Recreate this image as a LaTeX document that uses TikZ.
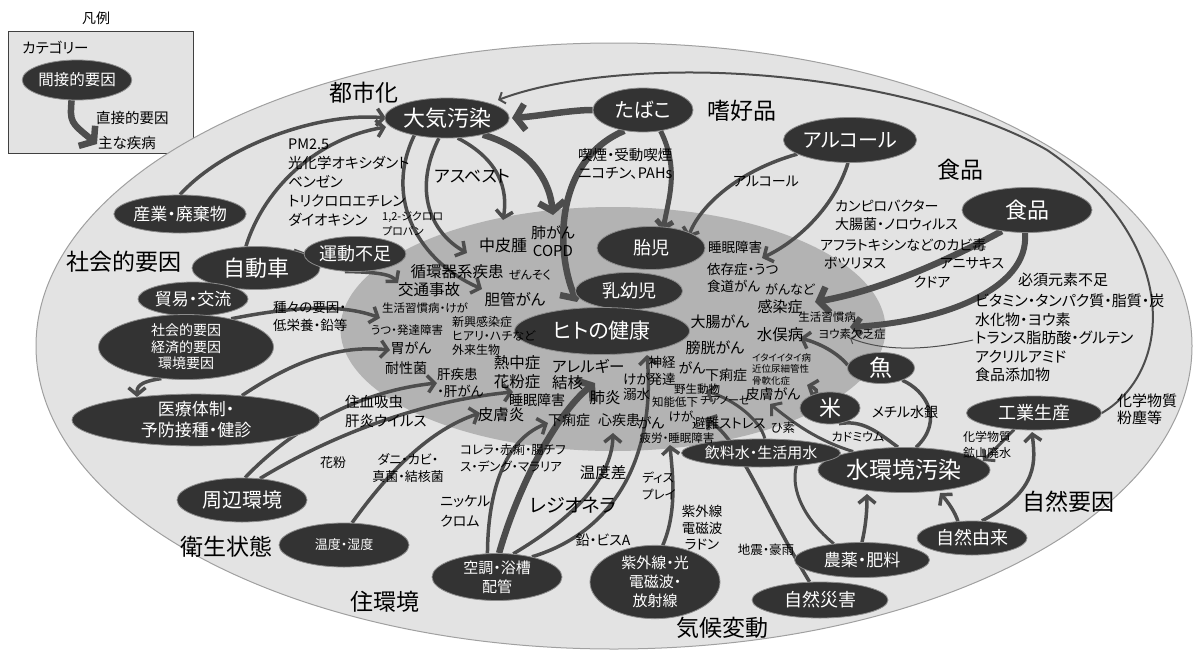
\documentclass[tikz,border=0pt]{standalone}
\usepackage{fontspec}
\newfontfamily\jp[RawFeature=+palt]{Noto Sans CJK JP}
\usetikzlibrary{shapes.geometric,arrows.meta}
\definecolor{outerfill}{HTML}{E3E3E3}
\definecolor{outerline}{HTML}{A0A0A0}
\definecolor{innerfill}{HTML}{B3B3B3}
\definecolor{nfill}{HTML}{333333}
\definecolor{nline}{HTML}{8C8C8C}
\definecolor{ac}{HTML}{4D4D4D}
\pgfdeclarelayer{bg}\pgfdeclarelayer{mid}\pgfsetlayers{bg,mid,main}
\begin{document}
\begin{tikzpicture}[x=1pt,y=-1pt,
  nd/.style={ellipse, fill=nfill, draw=nline, line width=0.8pt, text=white, inner sep=0pt, align=center},
  fs/.style 2 args={font=\jp\fontsize{#1}{#2}\selectfont},
  lb/.style={inner sep=0pt, align=center, text=black},
  lbl/.style={inner sep=0pt, align=left, anchor=north west, text=black},
  arr/.style={draw=ac, line width=3.5pt, -{Straight Barb[length=7pt,width=17pt]}},
  arrt/.style={draw=ac, line width=6.5pt, -{Straight Barb[length=9pt,width=26pt]}},
  arrs/.style={draw=ac, line width=1pt, -{Straight Barb[length=4pt,width=9pt]}},
  ln/.style={draw=ac, line width=3.5pt},
  lnt/.style={draw=ac, line width=2pt},
]
\useasboundingbox (0,0) rectangle (1197,651);

% ---------- legend
\node[lb,fs={14}{16}] (hanrei) at (96,18) {凡例};
\begin{pgfonlayer}{bg}
\node[draw=black!75, fill=outerfill, line width=1pt, minimum width=185pt, minimum height=122pt, inner sep=0pt] (legend) at (100.5,92) {};
\end{pgfonlayer}
\node[lbl,fs={14.5}{16},anchor=west] (lcat) at (22,48) {カテゴリー};
\node[nd, minimum width=95pt, minimum height=40pt, fs={15.5}{18}] (legnode) at (77,80) {間接的要因};
\node[lbl,fs={14.5}{16},anchor=west] (lchok) at (96,118) {直接的要因};
\node[lbl,fs={14.5}{16},anchor=west] (lshu) at (98,143) {主な疾病};
\coordinate (legtip) at (97,144);
\begin{pgfonlayer}{mid}
\draw[arrt] (legnode.255) .. controls (70,122) .. (legtip);
\end{pgfonlayer}

% ---------- background ellipses
\begin{pgfonlayer}{bg}
\node[ellipse, fill=outerfill, draw=outerline, line width=1pt, minimum width=1156pt, minimum height=606pt, inner sep=0pt] (outer) at (614,346) {};
\node[ellipse, fill=innerfill, minimum width=545pt, minimum height=244pt, inner sep=0pt] (inner) at (613,329) {};
\end{pgfonlayer}

% ---------- nodes
\node[nd, minimum width=123pt, minimum height=40pt, fs={22}{24}] (taiki) at (447,118) {大気汚染};
\node[nd, minimum width=100pt, minimum height=44pt, fs={20}{22}] (tabako) at (643,110) {たばこ};
\node[nd, minimum width=130pt, minimum height=45pt, fs={20}{22}] (alc) at (850,140) {アルコール};
\node[nd, minimum width=130pt, minimum height=45pt, fs={22}{24}] (shoku) at (1027,210) {食品};
\node[nd, minimum width=130pt, minimum height=38pt, fs={17}{20}] (sangyo) at (180,214) {産業・廃棄物};
\node[nd, minimum width=128pt, minimum height=43pt, fs={22}{24}] (jidosha) at (256,268) {自動車};
\node[nd, minimum width=88pt, minimum height=35pt, fs={18}{20}] (undo) at (355,254) {運動不足};
\node[nd, minimum width=110pt, minimum height=34pt, fs={17}{20}] (boeki) at (193,299) {貿易・交流};
\node[nd, minimum width=175pt, minimum height=55pt, fs={14}{16.5}] (shakai) at (186,347) {社会的要因\\経済的要因\\環境要因};
\node[nd, minimum width=248pt, minimum height=46pt, fs={17}{21}] (iryo) at (196,420) {医療体制・\\予防接種・健診};
\node[nd, minimum width=130pt, minimum height=44pt, fs={20}{22}] (shuhen) at (242,500) {周辺環境};
\node[nd, minimum width=130pt, minimum height=44pt, fs={13}{15}] (ondo) at (344,545) {温度・湿度};
\node[nd, minimum width=130pt, minimum height=47pt, fs={15}{19}] (kucho) at (497,577) {空調・浴槽\\配管};
\node[nd, minimum width=130pt, minimum height=63pt, fs={15}{19}] (shigai) at (655,582) {紫外線・光\\電磁波・\\放射線};
\node[nd, minimum width=136pt, minimum height=36pt, fs={18}{20}] (saigai) at (820,600) {自然災害};
\node[nd, minimum width=135pt, minimum height=35pt, fs={17}{20}] (noyaku) at (862,560) {農薬・肥料};
\node[nd, minimum width=110pt, minimum height=34pt, fs={18}{20}] (shizen) at (972,538) {自然由来};
\node[nd, minimum width=172pt, minimum height=45pt, fs={23}{25}] (mizu) at (904,470) {水環境汚染};
\node[nd, minimum width=135pt, minimum height=34pt, fs={18}{20}] (kogyo) at (1034,413) {工業生産};
\node[nd, minimum width=145pt, minimum height=28pt, fs={15}{17}] (inryo) at (761,453) {飲料水・生活用水};
\node[nd, minimum width=60pt, minimum height=32pt, fs={22}{24}] (kome) at (830,408) {米};
\node[nd, minimum width=67pt, minimum height=31pt, fs={23}{25}] (sakana) at (881,368) {魚};
\node[nd, minimum width=108pt, minimum height=43pt, fs={18}{20}] (taiji) at (651,248) {胎児};
\node[nd, minimum width=107pt, minimum height=37pt, fs={18}{20}] (nyu) at (629,291) {乳幼児};
\node[nd, minimum width=175pt, minimum height=47pt, fs={21}{24}] (hito) at (602,331) {ヒトの健康};

% ---------- category labels
\node[lb,fs={23}{26}] (c1) at (364,93) {都市化};
\node[lb,fs={23}{26}] (c2) at (742,111) {嗜好品};
\node[lb,fs={23}{26}] (c3) at (960,170) {食品};
\node[lb,fs={23}{26}] (c4) at (124,262) {社会的要因};
\node[lb,fs={23}{26}] (c5) at (226,547) {衛生状態};
\node[lb,fs={23}{26}] (c6) at (385,602) {住環境};
\node[lb,fs={23}{26}] (c7) at (722,628) {気候変動};
\node[lb,fs={23}{26}] (c8) at (1068,502) {自然要因};

% ---------- labels
\node[lbl,fs={14.5}{19}] (lpm) at (288,139) {PM2.5\\光化学オキシダント\\ベンゼン\\トリクロロエチレン\\ダイオキシン};
\node[lbl,fs={11}{15}] (ldcp) at (382,211) {1,2-ジクロロ\\プロパン};
\node[lb,fs={17}{19}] (lasb) at (472,176) {アスベスト};
\node[lbl,fs={14.5}{18}] (lkitsu) at (578,148) {喫煙・受動喫煙\\ニコチン、PAHs};
\node[lb,fs={14}{16}] (lalc) at (766,182) {アルコール};
\node[lbl,fs={14}{17.5}] (lcamp) at (835,200) {カンピロバクター\\大腸菌・ノロウィルス};
\node[lbl,fs={14}{16},anchor=west] (lafla) at (820,245) {アフラトキシンなどのカビ毒};
\node[lb,fs={14}{16}] (lbotu) at (855,263) {ボツリヌス};
\node[lb,fs={14}{16}] (lanis) at (972,263) {アニサキス};
\node[lb,fs={14}{16}] (lkud) at (932,282) {クドア};
\node[lbl,fs={15}{17},anchor=west] (lhis) at (1018,280) {必須元素不足};
\node[lbl,fs={15}{18.4}] (lvit) at (975,294) {ビタミン・タンパク質・脂質・炭\\水化物・ヨウ素\\トランス脂肪酸・グルテン\\アクリルアミド\\食品添加物};
\node[lbl,fs={15}{17}] (lkag) at (1117,394) {化学物質\\粉塵等};
\node[lb,fs={16}{18}] (dchu) at (503,245) {中皮腫};
\node[lb,fs={15}{18}] (dhai) at (553,241) {肺がん\\COPD};
\node[lb,fs={15.5}{18}] (djun) at (457,272) {循環器系疾患};
\node[lb,fs={12}{14}] (dzen) at (530,275) {ぜんそく};
\node[lb,fs={15.5}{18}] (dkot) at (429,290) {交通事故};
\node[lb,fs={15.5}{18}] (dtan) at (515,300) {胆管がん};
\node[lb,fs={11.5}{13}] (dsei) at (425,308) {生活習慣病・けが};
\node[lb,fs={11.5}{13}] (dutu) at (407,330) {うつ・発達障害};
\node[lbl,fs={12}{14}] (dshin) at (452,316) {新興感染症\\ヒアリ・ハチなど\\外来生物};
\node[lb,fs={14}{16}] (digan) at (411,348) {胃がん};
\node[lb,fs={14}{16}] (dtai) at (406,368) {耐性菌};
\node[lbl,fs={13.5}{17}] (dkan) at (437,368) {肝疾患\\・肝がん};
\node[lb,fs={15.5}{19}] (dnet) at (517,372) {熱中症\\花粉症};
\node[lbl,fs={15.5}{16}] (dall) at (552,359) {アレルギー\\結核};
\node[lb,fs={14}{16}] (dsui) at (537,400) {睡眠障害};
\node[lb,fs={15.5}{18}] (dhif) at (501,415) {皮膚炎};
\node[lb,fs={14}{16}] (dger) at (569,420) {下痢症};
\node[lb,fs={15.5}{18}] (dhaien) at (605,398) {肺炎};
\node[lb,fs={14}{16}] (dshik) at (619,420) {心疾患};
\node[lb,fs={14}{16}] (dgan) at (651,423) {がん};
\node[lbl,fs={13.5}{15}] (dkega) at (623,373) {けが\\溺水};
\node[lb,fs={13.5}{17}] (dshink) at (662,371) {神経\\発達};
\node[lb,fs={14}{16}] (dgan2) at (692,368) {がん};
\node[lb,fs={14}{16}] (dger2) at (726,375) {下痢症};
\node[lb,fs={11.5}{14}] (dyasei) at (697,389) {野生動物};
\node[lb,fs={11.5}{14}] (dchino) at (675,402) {知能低下};
\node[lb,fs={11}{14}] (dchia) at (725,400) {チアノーゼ};
\node[lb,fs={14}{16}] (dhifg) at (773,394) {皮膚がん};
\node[lb,fs={12.5}{14}] (dkega2) at (681,417) {けが};
\node[lb,fs={13.5}{15}] (dhinan) at (729,423) {避難ストレス};
\node[lb,fs={11.5}{13}] (dhiro) at (677,438) {疲労・睡眠障害};
\node[lb,fs={12.5}{14}] (dhiso) at (783,428) {ひ素};
\node[lb,fs={15.5}{18}] (dmina) at (780,335) {水俣病};
\node[lb,fs={15}{17}] (dbou) at (715,348) {膀胱がん};
\node[lb,fs={15}{17}] (ddai) at (720,322) {大腸がん};
\node[lb,fs={15}{17}] (dkans) at (780,307) {感染症};
\node[lb,fs={13}{15}] (dgannado) at (790,289) {がんなど};
\node[lbl,fs={13.5}{17}] (dizon) at (707,263) {依存症・うつ\\食道がん};
\node[lb,fs={13.5}{15}] (dsui2) at (735,247) {睡眠障害};
\node[lb,fs={11.5}{13}] (dsei2) at (827,317) {生活習慣病};
\node[lb,fs={11.5}{13}] (dyou) at (852,334) {ヨウ素欠乏症};
\node[lbl,fs={9.5}{11.5}] (ditai) at (752,353) {イタイイタイ病\\近位尿細管性\\骨軟化症};
\node[lb,fs={14}{16}] (lmeth) at (905,412) {メチル水銀};
\node[lb,fs={12}{14}] (lcad) at (858,437) {カドミウム};
\node[lbl,fs={12}{16}] (lkag2) at (963,431) {化学物質\\鉱山廃水};
\node[lbl,fs={13.5}{18}] (lshuju) at (273,301) {種々の要因・\\低栄養・鉛等};
\node[lbl,fs={14.5}{19}] (ljuke) at (345,395) {住血吸虫\\肝炎ウイルス};
\node[lb,fs={13}{15}] (lkafun) at (333,463) {花粉};
\node[lb,fs={13}{17}] (ldani) at (408,468) {ダニ・カビ・\\真菌・結核菌};
\node[lbl,fs={12.5}{17}] (lcol) at (460,444) {コレラ・赤痢・腸チフ\\ス・デング・マラリア};
\node[lbl,fs={14}{20}] (lnik) at (440,495) {ニッケル\\クロム};
\node[lb,fs={19}{21}] (lreg) at (573,505) {レジオネラ};
\node[lb,fs={15.5}{18}] (lond) at (603,473) {温度差};
\node[lbl,fs={12.5}{17}] (ldisp) at (642,472) {ディス\\プレイ};
\node[lb,fs={14}{16}] (lnam) at (603,540) {鉛・ビスA};
\node[lb,fs={13.5}{16.5}] (luv) at (702,528) {紫外線\\電磁波\\ラドン};
\node[lb,fs={12.5}{14}] (ljis) at (766,550) {地震・豪雨};

% ---------- target coordinates
\coordinate (tchu) at (503,220);
\coordinate (tjun) at (467,253);
\coordinate (ttan) at (482,289);
\coordinate (thai) at (553,215);
\coordinate (thito) at (577,302);
\coordinate (ttaiA) at (663,231);
\coordinate (ttaiB) at (688,238);
\coordinate (tizon) at (762,258);
\coordinate (tkans) at (815,302);
\coordinate (tsei2) at (850,327);
\coordinate (tyou) at (850,338);
\coordinate (tmina) at (800,338);
\coordinate (titai) at (807,385);
\coordinate (tsei) at (380,318);
\coordinate (tigan) at (390,350);
\coordinate (tkot) at (398,283);
\coordinate (tkan) at (437,383);
\coordinate (tkaf) at (513,392);
\coordinate (thif) at (480,413);
\coordinate (tger) at (548,423);
\coordinate (thaien) at (595,383);
\coordinate (tshik) at (613,433);
\coordinate (thito2) at (647,355);
\coordinate (thiro) at (670,445);
\coordinate (thinan) at (705,418);
\coordinate (thifg) at (770,404);
\coordinate (tger2) at (706,391);
\coordinate (ttaiki) at (498,100);
\coordinate (ttaikiB) at (386,118);
\coordinate (ttaikiC) at (386,127);
\coordinate (ttaikiD) at (512,118);
\coordinate (tmizuA) at (940,493);
\coordinate (tmizuB) at (867,494);
\coordinate (tmizuC) at (983,461);
\coordinate (tkogyo) at (1032,432);
\coordinate (tiryo) at (137,397);
\coordinate (ttrans) at (973,340);

% ---------- connectors
\begin{pgfonlayer}{mid}
\draw[arr] (sangyo.north) .. controls (225,145) and (320,112) .. (ttaikiB);
\draw[arr] (jidosha.115) .. controls (265,185) and (320,138) .. (ttaikiC);
\draw[arrt] (tabako.west) .. controls (570,110) and (540,116) .. (ttaikiD);
\draw[arrt] (taiki.-25) .. controls (535,150) and (550,185) .. (thai);
\draw[arrt] (tabako.228) .. controls (555,160) and (555,250) .. (thito);
\draw[arr, line width=5pt] (tabako.-50) .. controls (680,170) and (668,200) .. (ttaiA);
\draw[arr] (alc.195) .. controls (740,170) and (700,205) .. (ttaiB);
\draw[arr] (alc.-95) .. controls (835,205) and (800,240) .. (tizon);
\draw[arrt] (shoku.220) .. controls (930,270) and (870,292) .. (tkans);
\draw[arr, line width=6pt] (shoku.-95) .. controls (1030,290) and (940,322) .. (tsei2);
\draw[arrs] (ttrans) .. controls (920,352) and (880,350) .. (tyou);
\draw[lnt,-{Straight Barb[length=5pt,width=12pt]}] (kogyo.east) .. controls (1175,370) and (1180,240) .. (1047,150) .. controls (960,100) and (800,68) .. (660,73) .. controls (580,76) and (530,88) .. (ttaiki);
\draw[arr, line width=3pt] (kogyo.220) -- (tmizuC);
\draw[arr] (shizen.60) .. controls (1040,490) and (1035,460) .. (tkogyo);
\draw[arr] (shizen.130) .. controls (955,512) and (948,502) .. (tmizuA);
\draw[arr] (noyaku.north) .. controls (866,525) and (867,510) .. (tmizuB);
\draw[arr] (sakana.175) .. controls (835,350) and (815,342) .. (tmina);
\draw[arr] (kome.140) .. controls (820,392) and (815,388) .. (titai);
\draw[ln] (mizu.105) .. controls (875,430) and (862,420) .. (kome.-60);
\draw[ln] (mizu.62) .. controls (945,420) and (925,390) .. (sakana.-30);
\draw[arr, line width=3pt] (mizu.160) .. controls (815,440) and (790,420) .. (thifg);
\draw[arr, line width=3pt] (inryo.75) .. controls (760,420) and (735,400) .. (tger2);
\draw[ln, line width=3pt] (noyaku.150) .. controls (805,520) and (790,490) .. (inryo.-20);
\draw[ln] (jidosha.25) -- (undo.west);
\draw[arr] (undo.-120) .. controls (385,272) and (392,276) .. (tkot);
\draw[arr] (taiki.-62) .. controls (500,160) and (508,190) .. (tchu);
\draw[arr] (taiki.-112) .. controls (413,190) and (430,232) .. (tjun);
\draw[arr] (taiki.-152) .. controls (383,200) and (420,262) .. (ttan);
\draw[arr] (shakai.32) .. controls (300,305) and (345,305) .. (tsei);
\draw[arr] (iryo.28) .. controls (295,360) and (340,345) .. (tigan);
\draw[arr] (shakai.-128) .. controls (137,382) and (137,388) .. (tiryo);
\draw[arr] (shuhen.82) .. controls (300,420) and (370,390) .. (tkan);
\draw[arr] (shuhen.50) .. controls (340,430) and (430,400) .. (tkaf);
\draw[arr] (ondo.70) .. controls (390,470) and (430,430) .. (thif);
\draw[arr] (kucho.112) .. controls (488,490) and (505,440) .. (tger);
\draw[arrt] (kucho.85) .. controls (520,480) and (560,410) .. (thaien);
\draw[arr] (kucho.55) .. controls (570,520) and (612,480) .. (tshik);
\draw[arr] (kucho.30) .. controls (620,530) and (655,450) .. (thito2);
\draw[arr] (shigai.78) .. controls (678,510) and (672,470) .. (thiro);
\draw[arr] (saigai.120) .. controls (760,500) and (740,440) .. (thinan);
\end{pgfonlayer}
\end{tikzpicture}
\end{document}
